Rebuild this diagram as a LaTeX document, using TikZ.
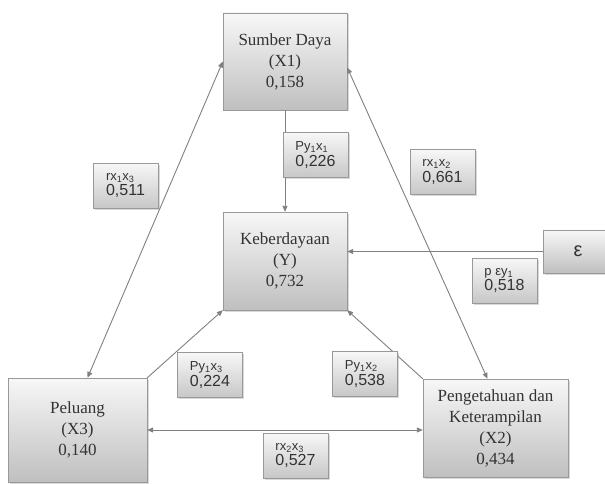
\documentclass[tikz,border=0pt]{standalone}
\usepackage{fontspec}
\setmainfont{Liberation Serif}
\newfontfamily\lblfont{Liberation Sans}
\usetikzlibrary{arrows.meta,shadows}
\newcommand{\coef}[2]{{\fontsize{13}{14}\selectfont #1}\\[1pt]{\fontsize{16}{17}\selectfont #2}}

\begin{document}
\begin{tikzpicture}[x=1pt, y=-1pt,
  box/.style={draw=black!40, top color=black!3, bottom color=black!25, drop shadow={shadow xshift=1.5pt, shadow yshift=-1.5pt, opacity=0.3}, align=center, font=\fontsize{17}{21}\selectfont, text=black!80, inner sep=2pt},
  lbl/.style={draw=black!40, top color=black!3, bottom color=black!22, drop shadow={shadow xshift=1.5pt, shadow yshift=-1.5pt, opacity=0.3}, minimum width=65pt, minimum height=45pt, align=left, font=\lblfont, text=black!80, inner sep=2pt},
  arr/.style={draw=black!50, line width=0.9pt, -{Triangle[length=6pt,width=5pt]}},
  darr/.style={arr, {Triangle[length=6pt,width=5pt]}-{Triangle[length=6pt,width=5pt]}}]
  \useasboundingbox (0,0) rectangle (605,484);
  % variables
  \node[box, minimum width=124pt, minimum height=97pt] (sd) at (285,61.5) {Sumber Daya\\(X1)\\0,158};
  \node[box, minimum width=124pt, minimum height=98pt] (kb) at (285,261) {Keberdayaan\\(Y)\\0,732};
  \node[box, minimum width=139pt, minimum height=104pt] (pl) at (77.5,430) {Peluang\\(X3)\\0,140};
  \node[box, minimum width=145pt, minimum height=98pt] (pk) at (495.5,428) {Pengetahuan dan\\Keterampilan\\(X2)\\0,434};
  \node[box, minimum width=70pt, minimum height=43pt, font=\lblfont\fontsize{20}{22}\selectfont] (eps) at (578,251.5) {ε};
  % paths
  \draw[arr] (sd) -- (kb);
  \draw[arr] (eps.west) -- (eps.west -| kb.east);
  \draw[arr] (pl.north east) -- (kb.south west);
  \draw[arr] (pk.north west) -- (kb.south east);
  \draw[darr] (sd.west) -- ([xshift=10pt]pl.north);
  \draw[darr] ([yshift=-6pt]sd.east) -- ([xshift=-8pt]pk.north);
  \draw[darr] (pl.east) -- (pl.east -| pk.west);
  % coefficients
  \node[lbl] (c13) at (125.5,185.5) {\coef{rx\textsubscript{1}x\textsubscript{3}}{0,511}};
  \node[lbl] (c11) at (315.5,155) {\coef{Py\textsubscript{1}x\textsubscript{1}}{0,226}};
  \node[lbl] (c12) at (442.5,172) {\coef{rx\textsubscript{1}x\textsubscript{2}}{0,661}};
  \node[lbl] (ce) at (504.5,280.5) {\coef{p εy\textsubscript{1}}{0,518}};
  \node[lbl] (c3) at (210,375) {\coef{Py\textsubscript{1}x\textsubscript{3}}{0,224}};
  \node[lbl] (c2) at (365,374) {\coef{Py\textsubscript{1}x\textsubscript{2}}{0,538}};
  \node[lbl] (c23) at (295.5,455.5) {\coef{rx\textsubscript{2}x\textsubscript{3}}{0,527}};
\end{tikzpicture}
\end{document}
